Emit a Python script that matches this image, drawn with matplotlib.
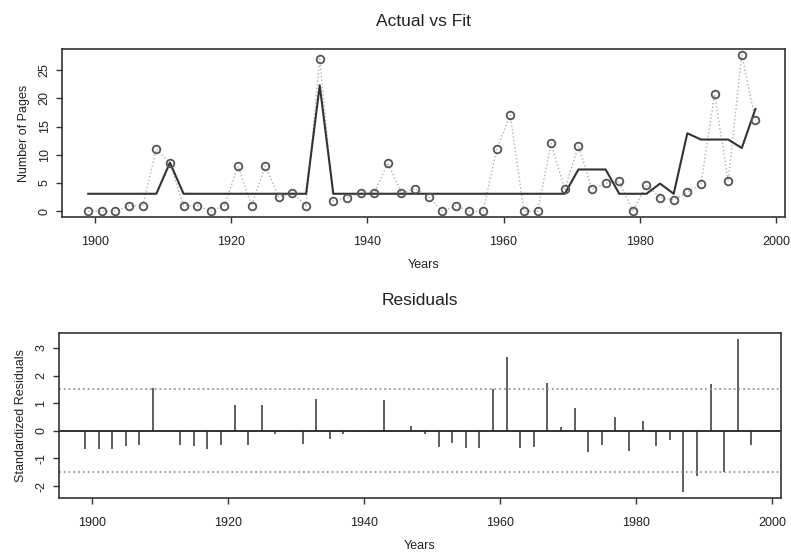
import matplotlib
matplotlib.use("Agg")
import matplotlib.pyplot as plt

plt.rcParams['font.family'] = ['Liberation Sans', 'DejaVu Sans']
plt.rcParams['axes.unicode_minus'] = False

# anos (um ponto a cada 2 anos)
anos = [1899, 1901, 1903, 1905, 1907, 1909, 1911, 1913, 1915, 1917,
        1919, 1921, 1923, 1925, 1927, 1929, 1931, 1933, 1935, 1937,
        1939, 1941, 1943, 1945, 1947, 1949, 1951, 1953, 1955, 1957,
        1959, 1961, 1963, 1965, 1967, 1969, 1971, 1973, 1975, 1977,
        1979, 1981, 1983, 1985, 1987, 1989, 1991, 1993, 1995, 1997]

# numero de paginas observado
paginas = [0, 0, 0, 1, 1, 11, 8.6, 1, 1, 0,
           1, 8, 1, 8, 2.5, 3.2, 1, 27, 1.8, 2.4,
           3.2, 3.2, 8.6, 3.2, 4.0, 2.5, 0, 1, 0, 0,
           11, 17, 0, 0, 12, 3.9, 11.6, 3.9, 5.0, 5.3,
           0, 4.7, 2.4, 2.0, 3.4, 4.8, 20.7, 5.4, 27.7, 16.1]

# valores ajustados
ajuste = [3.1, 3.1, 3.1, 3.1, 3.1, 3.1, 8.6, 3.1, 3.1, 3.1,
          3.1, 3.1, 3.1, 3.1, 3.1, 3.1, 3.1, 22.3, 3.1, 3.1,
          3.1, 3.1, 3.1, 3.1, 3.1, 3.1, 3.1, 3.1, 3.1, 3.1,
          3.1, 3.1, 3.1, 3.1, 3.1, 3.1, 7.4, 7.4, 7.4, 3.1,
          3.1, 3.1, 4.9, 3.1, 13.8, 12.7, 12.7, 12.7, 11.2, 18.1]

# residuos padronizados
residuos = [-0.66, -0.65, -0.66, -0.54, -0.51, 1.57, 0.0, -0.52, -0.55, -0.66,
            -0.52, 0.92, -0.53, 0.93, -0.13, 0.02, -0.48, 1.14, -0.29, -0.13,
            0.02, 0.02, 1.12, -0.02, 0.16, -0.13, -0.60, -0.45, -0.62, -0.62,
            1.52, 2.69, -0.63, -0.59, 1.75, 0.14, 0.83, -0.76, -0.52, 0.49,
            -0.74, 0.35, -0.56, -0.33, -2.22, -1.64, 1.68, -1.49, 3.33, -0.53]

limites = [-1.5, 1.5]
anos_ticks = [1900, 1920, 1940, 1960, 1980, 2000]

cor = '#333333'
fig = plt.figure(figsize=(7.91, 5.52), dpi=100)


def estilo(ax):
    for s in ax.spines.values():
        s.set_color(cor)
        s.set_linewidth(1.2)
    ax.tick_params(direction='out', length=4, width=1, colors=cor,
                   labelsize=9, labelcolor='#222222')
    ax.tick_params(axis='x', pad=9)
    ax.tick_params(axis='y', pad=4)
    for t in ax.get_yticklabels():
        t.set_rotation(90)
        t.set_va('center')
    ax.set_xticks(anos_ticks)
    ax.set_xlim(1895.1, 2001.3)
    ax.set_xlabel('Years', fontsize=9, labelpad=8, color='#222222')


# grafico de cima: real vs ajuste
ax1 = fig.add_axes([0.078, 0.606, 0.914, 0.306])
ax1.plot(anos, paginas, linestyle=':', color='#b0b0b0', linewidth=1.0, zorder=1)
ax1.plot(anos, ajuste, color=cor, linewidth=1.5, zorder=2)
ax1.plot(anos, paginas, linestyle='none', marker='o', markersize=5.5,
         markerfacecolor='none', markeredgecolor='#555555', markeredgewidth=1.3, zorder=3)
ax1.set_ylim(-1.1, 28.8)
ax1.set_yticks([0, 5, 10, 15, 20, 25])
ax1.set_ylabel('Number of Pages', fontsize=9, labelpad=6, color='#222222')
ax1.set_title('Actual vs Fit', fontsize=12.5, pad=16, color='#222222')
estilo(ax1)

# grafico de baixo: residuos
ax2 = fig.add_axes([0.074, 0.097, 0.913, 0.300])
ax2.vlines(anos, 0, residuos, color=cor, linewidth=1.1)
ax2.axhline(0, color='#222222', linewidth=1.3)
for lim in limites:
    ax2.axhline(lim, color='#999999', linestyle=':', linewidth=1.3)
ax2.set_ylim(-2.45, 3.55)
ax2.set_yticks([-2, -1, 0, 1, 2, 3])
ax2.set_ylabel('Standardized Residuals', fontsize=9, labelpad=6, color='#222222')
ax2.set_title('Residuals', fontsize=12.5, pad=20, color='#222222')
estilo(ax2)

fig.savefig('out.png', dpi=100)
